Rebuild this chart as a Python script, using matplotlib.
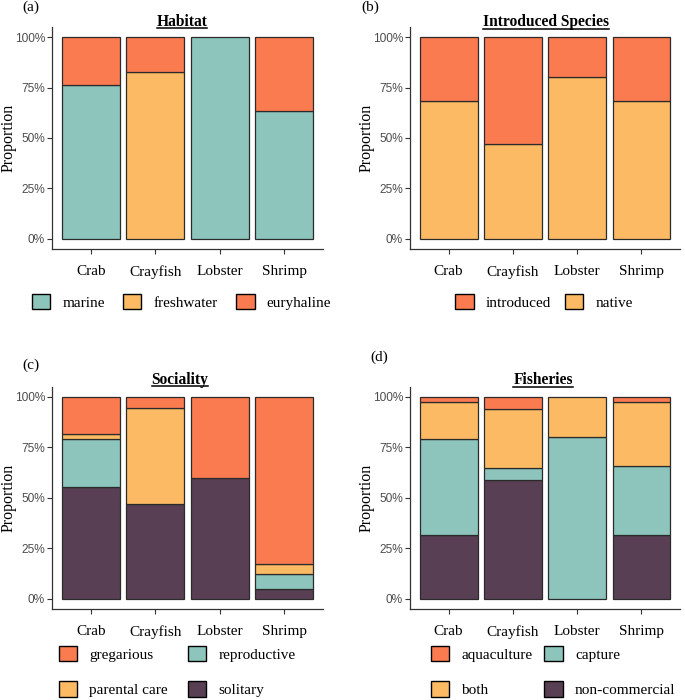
import matplotlib
matplotlib.use('Agg')
import matplotlib.pyplot as plt
from matplotlib.patches import Patch
from matplotlib.lines import Line2D

species = ['Crab', 'Crayfish', 'Lobster', 'Shrimp']

# Habitat
marine = [0.765, 0.0, 1.0, 0.636]
freshwater = [0.0, 0.825, 0.0, 0.0]
euryhaline = [0.235, 0.175, 0.0, 0.364]

# Introduced species
native = [0.684, 0.47, 0.80, 0.684]
introduced = [0.316, 0.53, 0.20, 0.316]

# Sociality
solitary = [0.553, 0.471, 0.60, 0.049]
reproductive = [0.237, 0.0, 0.0, 0.073]
parental_care = [0.026, 0.471, 0.0, 0.049]
gregarious = [0.184, 0.058, 0.40, 0.829]

# Fisheries
non_commercial = [0.316, 0.588, 0.0, 0.317]
capture = [0.474, 0.059, 0.80, 0.342]
both = [0.184, 0.294, 0.20, 0.317]
aquaculture = [0.026, 0.059, 0.0, 0.024]

TEAL = '#8DC5BC'
YELLOW = '#FBBA63'
ORANGE = '#FA7B50'
PURPLE = '#593F53'
EDGE = '#2b2b2b'

SERIF = 'Liberation Serif'
SANS = 'Liberation Sans'

W, H = 685, 700
fig = plt.figure(figsize=(W / 100, H / 100), dpi=100)


def px_axes(x0, x1, y0, y1):
    # pixel box (top-left origin) -> figure fraction
    return fig.add_axes([x0 / W, 1 - y1 / H, (x1 - x0) / W, (y1 - y0) / H])


def stacked(ax, layers, colors):
    bottom = [0.0] * len(species)
    for vals, col in zip(layers, colors):
        for i, v in enumerate(vals):
            if v > 0:
                ax.bar(i + 1, v, width=0.9, bottom=bottom[i], color=col,
                       edgecolor=EDGE, linewidth=0.9)
            bottom[i] += v
    ax.set_xlim(0.4, 4.6)
    ax.set_ylim(-0.05, 1.05)
    ax.set_xticks([1, 2, 3, 4])
    ax.set_xticklabels(species, fontfamily=SERIF, fontsize=11, color='black')
    ax.set_yticks([0, 0.25, 0.5, 0.75, 1.0])
    ax.set_yticklabels(['0%', '25%', '50%', '75%', '100%'], fontfamily=SANS,
                       fontsize=8.6, color='#4D4D4D')
    ax.tick_params(axis='x', length=3.5, pad=8, color='#333333', width=0.8)
    ax.tick_params(axis='y', length=3.5, pad=1.5, color='#333333', width=0.8)
    for s in ['top', 'right']:
        ax.spines[s].set_visible(False)
    for s in ['left', 'bottom']:
        ax.spines[s].set_color('#333333')
        ax.spines[s].set_linewidth(0.9)
    ax.text(-0.16, 0.5, 'Proportion', transform=ax.transAxes, rotation=90,
            ha='center', va='center', fontfamily=SERIF, fontsize=11.5)


def legend(ax, labels, colors, cx, top, ncol, colspace, rowspace=0.4):
    handles = [Patch(facecolor=c, edgecolor='black', linewidth=1.0) for c in colors]
    ax.legend(handles, labels, loc='upper center',
              bbox_to_anchor=(cx / W, 1 - top / H), bbox_transform=fig.transFigure,
              ncol=ncol, frameon=False, borderpad=0, handlelength=1.2,
              handleheight=1.2, handletextpad=0.8, columnspacing=colspace,
              labelspacing=rowspace, prop={'family': SERIF, 'size': 11})


titles = []

# (a) Habitat
ax1 = px_axes(52, 323, 27, 249)
stacked(ax1, [marine, freshwater, euryhaline], [TEAL, YELLOW, ORANGE])
legend(ax1, ['marine', 'freshwater', 'euryhaline'], [TEAL, YELLOW, ORANGE],
       181.5, 286, 3, 1.2)
titles.append(fig.text(182 / W, 1 - 21.7 / H, 'Habitat', ha='center', va='center',
                       fontfamily=SERIF, fontweight='bold', fontsize=11.2))
fig.text(30.5 / W, 1 - 7 / H, '(a)', ha='center', va='center', fontfamily=SERIF, fontsize=11)

# (b) Introduced Species
ax2 = px_axes(410, 680, 27, 249)
stacked(ax2, [native, introduced], [YELLOW, ORANGE])
legend(ax2, ['introduced', 'native'], [ORANGE, YELLOW], 544, 286, 2, 0.9)
titles.append(fig.text(546 / W, 1 - 22.5 / H, 'Introduced Species', ha='center', va='center',
                       fontfamily=SERIF, fontweight='bold', fontsize=11.2))
fig.text(370.5 / W, 1 - 7 / H, '(b)', ha='center', va='center', fontfamily=SERIF, fontsize=11)

# (c) Sociality
ax3 = px_axes(52, 323, 386.6, 609)
stacked(ax3, [solitary, reproductive, parental_care, gregarious],
        [PURPLE, TEAL, YELLOW, ORANGE])
legend(ax3, ['gregarious', 'parental care', 'reproductive', 'solitary'],
       [ORANGE, YELLOW, TEAL, PURPLE], 177, 638, 2, 1.3, rowspace=1.3)
titles.append(fig.text(180 / W, 1 - 380 / H, 'Sociality', ha='center', va='center',
                       fontfamily=SERIF, fontweight='bold', fontsize=11.2))
fig.text(30.5 / W, 1 - 365 / H, '(c)', ha='center', va='center', fontfamily=SERIF, fontsize=11)

# (d) Fisheries
ax4 = px_axes(410, 680, 386.6, 609)
stacked(ax4, [non_commercial, capture, both, aquaculture],
        [PURPLE, TEAL, YELLOW, ORANGE])
legend(ax4, ['aquaculture', 'both', 'capture', 'non-commercial'],
       [ORANGE, YELLOW, TEAL, PURPLE], 553, 638, 2, 0.8, rowspace=1.3)
titles.append(fig.text(543 / W, 1 - 380.5 / H, 'Fisheries', ha='center', va='center',
                       fontfamily=SERIF, fontweight='bold', fontsize=11.2))
fig.text(379 / W, 1 - 357 / H, '(d)', ha='center', va='center', fontfamily=SERIF, fontsize=11)

# underline the panel titles
fig.canvas.draw()
renderer = fig.canvas.get_renderer()
inv = fig.transFigure.inverted()
for t in titles:
    bb = t.get_window_extent(renderer)
    (x0, y0), (x1, y1) = inv.transform([[bb.x0, bb.y0], [bb.x1, bb.y1]])
    yl = y0 + 1.5 / H
    fig.lines.append(Line2D([x0, x1], [yl, yl], transform=fig.transFigure,
                            color='black', linewidth=1.1))

fig.savefig('out.png', dpi=100)
